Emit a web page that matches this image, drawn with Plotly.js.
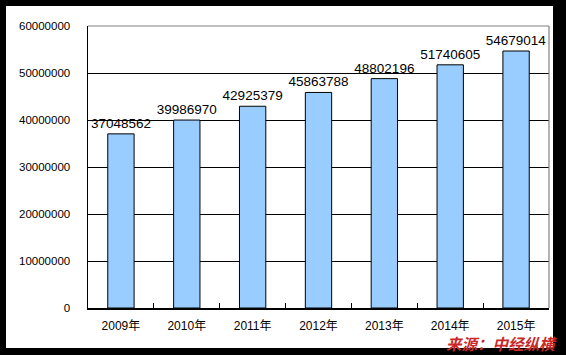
<!DOCTYPE html>
<html>
<head>
<meta charset="utf-8">
<script src="https://cdn.plot.ly/plotly-3.0.1.min.js"></script>
<style>html,body{margin:0;padding:0;background:#000;}#chart{width:566px;height:355px;}</style>
</head>
<body>
<div id="chart"></div>
<script>
const years = ["2009年","2010年","2011年","2012年","2013年","2014年","2015年"];
const values = [37048562, 39986970, 42925379, 45863788, 48802196, 51740605, 54679014];
const yTicks = [0, 10000000, 20000000, 30000000, 40000000, 50000000, 60000000];
const sourceText = "来源：中经纵横";

const L = 88, R = 17, T = 26, B = 47, W = 566, H = 355;
const pw = W - L - R, ph = H - T - B;
const px = x => (x - L) / pw;
const py = y => (H - B - y) / ph;

const trace = {
  type: "bar",
  x: years,
  y: values,
  marker: {color: "#99CCFF", line: {color: "#000000", width: 1}},
  text: values.map(v => String(v)),
  textposition: "outside",
  constraintext: "none",
  textfont: {family: "Liberation Sans, Arial, sans-serif", size: 13.5, color: "#000"},
  cliponaxis: false,
  hoverinfo: "none"
};

const layout = {
  width: W, height: H,
  margin: {l: L, r: R, t: T, b: B, pad: 0},
  paper_bgcolor: "#000000",
  plot_bgcolor: "#ffffff",
  showlegend: false,
  bargap: 0.6,
  xaxis: {
    type: "category",
    showline: true, linecolor: "#000", linewidth: 1.5,
    ticks: "inside", tickson: "boundaries", ticklen: 5, tickcolor: "#000", tickwidth: 1,
    showgrid: false,
    tickfont: {family: "Liberation Sans, Noto Sans CJK SC, sans-serif", size: 12, color: "#000"},
    ticklabelstandoff: 6
  },
  yaxis: {
    range: [0, 60000000],
    tickvals: yTicks,
    ticktext: yTicks.map(v => String(v)),
    showline: true, linecolor: "#000", linewidth: 1.5,
    ticks: "",
    showgrid: true, gridcolor: "#000", gridwidth: 1,
    zeroline: false,
    tickfont: {family: "Liberation Sans, Arial, sans-serif", size: 11.5, color: "#000"},
    ticklabelstandoff: 14
  },
  shapes: [
    {type: "rect", xref: "paper", yref: "paper", layer: "below",
     x0: px(6), x1: px(553), y0: py(348), y1: py(6),
     fillcolor: "#ffffff", line: {width: 0}},
    {type: "line", xref: "paper", yref: "paper", layer: "above",
     x0: 0, x1: 1, y0: 1, y1: 1, line: {color: "#808080", width: 1.2}},
    {type: "line", xref: "paper", yref: "paper", layer: "above",
     x0: 1, x1: 1, y0: 0, y1: 1, line: {color: "#808080", width: 1.2}}
  ],
  annotations: [
    {text: "<b><i>" + sourceText + "</i></b>", xref: "paper", yref: "paper",
     x: px(501), y: py(343), xanchor: "center", yanchor: "middle", showarrow: false,
     borderpad: 0,
     font: {family: "Noto Sans CJK SC, sans-serif", size: 15.5, color: "#C8282A"}}
  ]
};

Plotly.newPlot("chart", [trace], layout, {staticPlot: true, displayModeBar: false});
</script>
</body>
</html>
